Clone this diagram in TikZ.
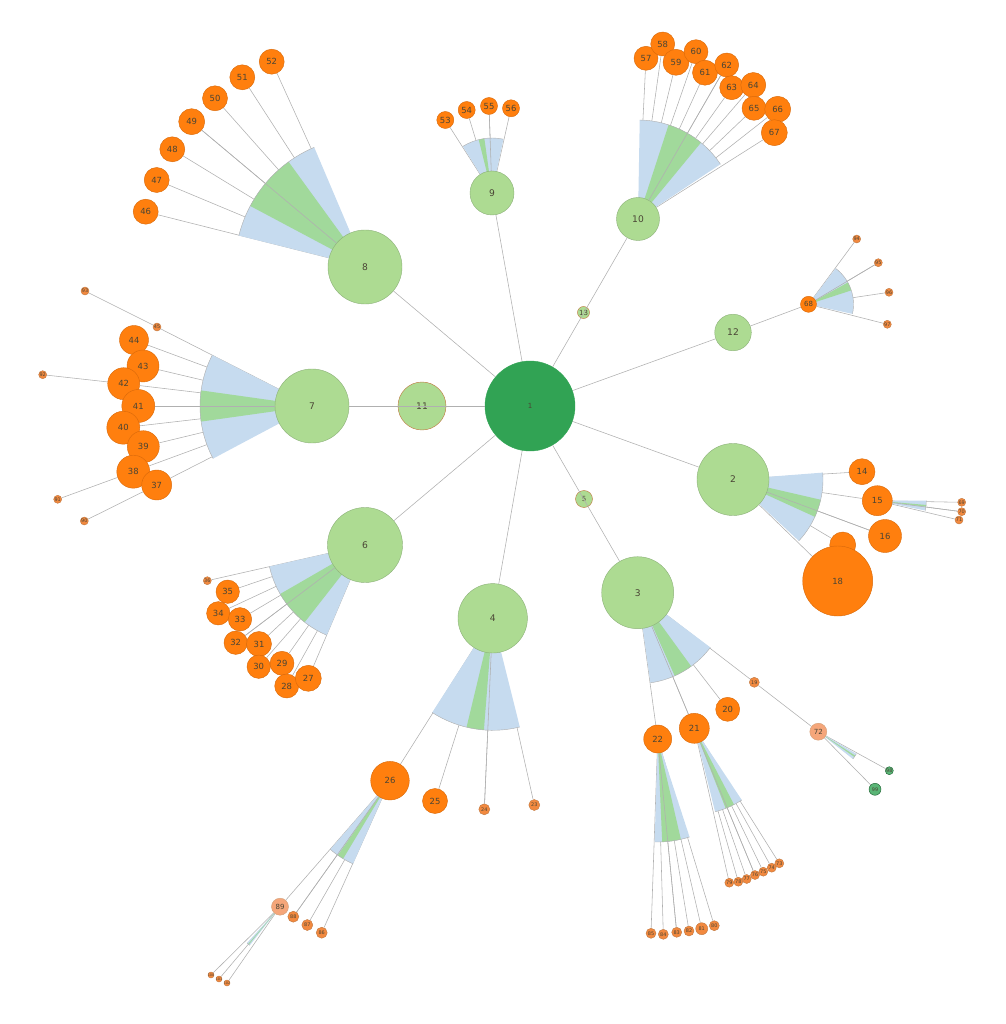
\documentclass[tikz,border=0pt]{standalone}
\usepackage{fontspec}
\setmainfont{DejaVu Sans}

\definecolor{rootgreen}{HTML}{31A354}
\definecolor{nodegreen}{HTML}{ADDB92}
\definecolor{rimgreen}{HTML}{8DB27A}
\definecolor{leaforange}{HTML}{FF7F0E}
\definecolor{rimorange}{HTML}{D9690A}
\definecolor{paleorange}{HTML}{F5A67A}
\definecolor{midorange}{HTML}{F2893F}
\definecolor{rimbrown}{HTML}{C07840}
\definecolor{fanblue}{HTML}{C6DBEF}
\definecolor{fangreen}{HTML}{A1D99B}
\definecolor{edgegray}{HTML}{B0B0B0}
\definecolor{labelgray}{HTML}{4A4535}

\pgfdeclarelayer{edges}
\pgfdeclarelayer{fans}
\pgfsetlayers{edges,fans,main}

\tikzset{
  vert/.style={circle, inner sep=0pt, line width=0.3pt, text=labelgray},
  rad/.style={minimum size={#1*0.5mm}},
  rootv/.style={vert, fill=rootgreen, draw=rootgreen, font=\fontsize{5}{5}\selectfont},
  inner/.style={vert, fill=nodegreen, draw=rimgreen, font=\fontsize{6.5}{7}\selectfont},
  ringed/.style={vert, fill=nodegreen, draw=rimbrown, font=\fontsize{6.5}{7}\selectfont},
  leaf/.style={vert, fill=leaforange, draw=rimorange, font=\fontsize{6}{6}\selectfont},
  pale/.style={vert, fill=paleorange, draw=rimbrown!70},
  mini/.style={vert, fill=midorange, draw=rimbrown},
  dark/.style={vert, fill=rootgreen!80, draw=rootgreen!60!black},
  minitext/.style={inner sep=0pt, text=labelgray, font=\fontsize{3.5}{3.5}\selectfont},
  tinytext/.style={inner sep=0pt, text=labelgray, font=\fontsize{2.4}{2.4}\selectfont},
  smalltext/.style={inner sep=0pt, text=labelgray, font=\fontsize{5}{5}\selectfont},
  edge/.style={draw=edgegray, line width=0.4pt},
  rim/.style={draw=edgegray, line width=0.3pt},
}

% fan behind a parent: node, from, to, radius (mm), green from, green to
\newcommand\fanwedge[6]{%
  \fill[fanblue] (#1.center) -- ++(#2:#4mm) arc[start angle=#2, end angle=#3, radius=#4mm] -- cycle;
  \fill[fangreen] (#1.center) -- ++(#5:#4mm) arc[start angle=#5, end angle=#6, radius=#4mm] -- cycle;
  \draw[rim] (#1.center) ++(#2:#4mm) arc[start angle=#2, end angle=#3, radius=#4mm];
}

\begin{document}
\begin{tikzpicture}[x=0.25mm, y=-0.25mm]
  \useasboundingbox (0,0) rectangle (1005,1024);

  % first ring
  \node[rootv, rad=45] (n1) at (530,406) {1};
  \node[ringed, rad=24] (n11) at (422,406) {11};
  \node[inner, rad=37] (n7) at (312,406) {7};
  \node[inner, rad=37] (n8) at (365,267) {8};
  \node[inner, rad=22] (n9) at (492,193) {9};
  \node[inner, rad=21.5] (n10) at (638,219) {10};
  \node[ringed, rad=6, label={[smalltext]center:13}] (n13) at (583.5,312.5) {};
  \node[inner, rad=18.3] (n12) at (733,332.5) {12};
  \node[leaf, rad=8, label={[smalltext]center:68}] (n68) at (808.5,304.3) {};
  \node[inner, rad=36] (n2) at (733,479.5) {2};
  \node[ringed, rad=8.5, label={[smalltext]center:5}] (n5) at (584,499) {};
  \node[inner, rad=36] (n3) at (637.7,592.7) {3};
  \node[inner, rad=34.7] (n4) at (492.7,618.3) {4};
  \node[inner, rad=37.5] (n6) at (365,545) {6};

  % under 8
  \node[leaf, rad=12.5] (n46) at (145.7,211.7) {46};
  \node[leaf, rad=12.5] (n47) at (156.7,180) {47};
  \node[leaf, rad=12.5] (n48) at (172.3,149.3) {48};
  \node[leaf, rad=13] (n49) at (191.7,121.7) {49};
  \node[leaf, rad=12.5] (n50) at (215,98.3) {50};
  \node[leaf, rad=12.5] (n51) at (242.3,77.3) {51};
  \node[leaf, rad=12.5] (n52) at (271.7,61.7) {52};

  % under 9
  \node[leaf, rad=8.5] (n53) at (445.3,120) {53};
  \node[leaf, rad=8.5] (n54) at (466.7,110) {54};
  \node[leaf, rad=8.5] (n55) at (489,106) {55};
  \node[leaf, rad=8.5] (n56) at (511,108.3) {56};

  % under 10
  \node[leaf, rad=12] (n57) at (646,58.3) {57};
  \node[leaf, rad=12] (n58) at (662.7,44) {58};
  \node[leaf, rad=13] (n59) at (676,62.3) {59};
  \node[leaf, rad=12] (n60) at (696,51.7) {60};
  \node[leaf, rad=12.5] (n61) at (705,72.7) {61};
  \node[leaf, rad=12] (n62) at (726.7,65) {62};
  \node[leaf, rad=12] (n63) at (731.7,87.7) {63};
  \node[leaf, rad=12.5] (n64) at (753.3,85) {64};
  \node[leaf, rad=12] (n65) at (754,108.3) {65};
  \node[leaf, rad=13] (n66) at (777.7,109.3) {66};
  \node[leaf, rad=13] (n67) at (774.3,132.7) {67};

  % under 68
  \node[mini, rad=4, label={[minitext]center:94}] (n94) at (856.7,239) {};
  \node[mini, rad=4, label={[minitext]center:95}] (n95) at (878.3,262.7) {};
  \node[mini, rad=4, label={[minitext]center:96}] (n96) at (889,292.3) {};
  \node[mini, rad=4, label={[minitext]center:97}] (n97) at (887.3,324.3) {};

  % under 7
  \node[leaf, rad=14.5] (n44) at (134,340) {44};
  \node[leaf, rad=16] (n43) at (143,366) {43};
  \node[leaf, rad=16] (n42) at (123.7,383.7) {42};
  \node[leaf, rad=16.5] (n41) at (138.3,406) {41};
  \node[leaf, rad=16.5] (n40) at (123.3,427.7) {40};
  \node[leaf, rad=16] (n39) at (143.3,446.7) {39};
  \node[leaf, rad=16.5] (n38) at (133.3,471.7) {38};
  \node[leaf, rad=15] (n37) at (156.7,485) {37};
  \node[mini, rad=4, label={[minitext]center:45}] (n45) at (157,327) {};
  \node[mini, rad=4, label={[minitext]center:93}] (n93) at (85,291) {};
  \node[mini, rad=4, label={[minitext]center:92}] (n92) at (42.7,374.7) {};
  \node[mini, rad=4, label={[minitext]center:91}] (n91) at (57.7,499.3) {};
  \node[mini, rad=4, label={[minitext]center:90}] (n90) at (84.3,521) {};

  % under 2
  \node[leaf, rad=13] (n14) at (862,471.7) {14};
  \node[leaf, rad=15] (n15) at (877.3,500.7) {15};
  \node[leaf, rad=16.5] (n16) at (885,536) {16};
  \node[leaf, rad=13] (n17) at (842.7,545) {};
  \node[leaf, rad=35] (n18) at (837.7,581) {18};
  \node[mini, rad=4, label={[minitext]center:69}] (n69) at (961.7,502.3) {};
  \node[mini, rad=4, label={[minitext]center:70}] (n70) at (961.7,511.7) {};
  \node[mini, rad=4, label={[minitext]center:71}] (n71) at (959,520) {};

  % under 6
  \node[mini, rad=4, label={[minitext]center:36}] (n36) at (207.3,580.7) {};
  \node[leaf, rad=11.7] (n35) at (227.7,591.7) {35};
  \node[leaf, rad=11.7] (n34) at (218.3,613.3) {34};
  \node[leaf, rad=11.7] (n33) at (240,619.3) {33};
  \node[leaf, rad=11.7] (n32) at (235.7,642.7) {32};
  \node[leaf, rad=12.5] (n31) at (259,644) {31};
  \node[leaf, rad=11.7] (n30) at (258.7,666.7) {30};
  \node[leaf, rad=12] (n29) at (282,663.3) {29};
  \node[leaf, rad=12] (n28) at (286.7,686) {28};
  \node[leaf, rad=13] (n27) at (308.3,678.3) {27};

  % under 3
  \node[leaf, rad=14] (n22) at (657.7,739) {22};
  \node[leaf, rad=15] (n21) at (694.3,728.3) {21};
  \node[leaf, rad=12] (n20) at (727.7,709.3) {20};
  \node[mini, rad=5, label={[minitext]center:19}] (n19) at (754.3,682.3) {};
  \node[pale, rad=8.5, label={[smalltext]center:72}] (n72) at (818.3,731.7) {};
  \node[dark, rad=4, label={[minitext]center:98}] (n98) at (889.3,770.7) {};
  \node[dark, rad=6, label={[minitext]center:99}] (n99) at (875,789.3) {};

  % under 22 and 21
  \node[mini, rad=5, label={[minitext]center:85}] (n85) at (651,933.3) {};
  \node[mini, rad=5, label={[minitext]center:84}] (n84) at (663.3,934.3) {};
  \node[mini, rad=5, label={[minitext]center:83}] (n83) at (676.7,932.3) {};
  \node[mini, rad=5, label={[minitext]center:82}] (n82) at (689,931) {};
  \node[mini, rad=6, label={[minitext]center:81}] (n81) at (701.7,928.7) {};
  \node[mini, rad=5, label={[minitext]center:80}] (n80) at (714.3,925.7) {};
  \node[mini, rad=4.5, label={[minitext]center:79}] (n79) at (729.3,882.7) {};
  \node[mini, rad=4.5, label={[minitext]center:78}] (n78) at (738.3,881.7) {};
  \node[mini, rad=4.5, label={[minitext]center:77}] (n77) at (746.7,879) {};
  \node[mini, rad=4.5, label={[minitext]center:76}] (n76) at (755,875) {};
  \node[mini, rad=4.5, label={[minitext]center:75}] (n75) at (763.3,871.7) {};
  \node[mini, rad=4.5, label={[minitext]center:74}] (n74) at (771.7,867.7) {};
  \node[mini, rad=4.5, label={[minitext]center:73}] (n73) at (779.3,863.3) {};

  % under 4
  \node[leaf, rad=19.3] (n26) at (390,780.7) {26};
  \node[leaf, rad=12.5] (n25) at (435,801) {25};
  \node[mini, rad=5.5, label={[minitext]center:24}] (n24) at (484.3,809.3) {};
  \node[mini, rad=5.5, label={[minitext]center:23}] (n23) at (534.3,805) {};
  \node[pale, rad=8.5, label={[smalltext]center:89}] (n89) at (280,906.7) {};
  \node[mini, rad=5.5, label={[minitext]center:88}] (n88) at (293.3,916.7) {};
  \node[mini, rad=5.5, label={[minitext]center:87}] (n87) at (307.3,925) {};
  \node[mini, rad=5.5, label={[minitext]center:86}] (n86) at (321.7,932.7) {};
  \node[mini, rad=3, label={[tinytext]center:100}] (n100) at (211,975) {};
  \node[mini, rad=3, label={[tinytext]center:101}] (n101) at (219,979) {};
  \node[mini, rad=3, label={[tinytext]center:102}] (n102) at (227,983) {};

  \begin{pgfonlayer}{edges}
    \draw[edge] (n1) -- (n8);
    \draw[edge] (n1) -- (n9);
    \draw[edge] (n1) -- (n12);
    \draw[edge] (n12) -- (n68);
    \draw[edge] (n1) -- (n2);
    \draw[edge] (n1) -- (n4);
    \draw[edge] (n1) -- (n6);
    \foreach \k in {46,...,52} \draw[edge] (n8) -- (n\k);
    \foreach \k in {53,...,56} \draw[edge] (n9) -- (n\k);
    \foreach \k in {57,...,67} \draw[edge] (n10) -- (n\k);
    \foreach \k in {94,...,97} \draw[edge] (n68) -- (n\k);
    \foreach \k in {37,...,45} \draw[edge] (n7) -- (n\k);
    \draw[edge] (n45) -- (n93);
    \draw[edge] (n42) -- (n92);
    \draw[edge] (n38) -- (n91);
    \draw[edge] (n37) -- (n90);
    \foreach \k in {14,...,18} \draw[edge] (n2) -- (n\k);
    \foreach \k in {69,70,71} \draw[edge] (n15) -- (n\k);
    \foreach \k in {27,...,36} \draw[edge] (n6) -- (n\k);
    \foreach \k in {19,...,22} \draw[edge] (n3) -- (n\k);
    \draw[edge] (n19) -- (n72);
    \draw[edge] (n72) -- (n98);
    \draw[edge] (n72) -- (n99);
    \foreach \k in {80,...,85} \draw[edge] (n22) -- (n\k);
    \foreach \k in {73,...,79} \draw[edge] (n21) -- (n\k);
    \foreach \k in {23,...,26} \draw[edge] (n4) -- (n\k);
    \foreach \k in {86,...,89} \draw[edge] (n26) -- (n\k);
    \foreach \k in {100,101,102} \draw[edge] (n89) -- (n\k);
  \end{pgfonlayer}

  \begin{pgfonlayer}{fans}
    \fanwedge{n8}{113}{166}{32.5}{126}{152}
    \fanwedge{n9}{78}{122}{13.75}{98}{104}
    \fanwedge{n10}{33.6}{89}{24.75}{50.5}{72}
    \fanwedge{n68}{-12.3}{52.9}{11.25}{18}{29}
    \fanwedge{n7}{153}{208}{28}{172}{188}
    \fanwedge{n2}{-43}{4.4}{22.5}{-24.5}{-13}
    \fanwedge{n15}{-11.6}{0}{12.25}{-7}{-5}
    \fanwedge{n6}{192.7}{247}{24.5}{210}{232}
    \fanwedge{n3}{-82}{-37}{22.75}{-66}{-54}
    \fanwedge{n72}{-38.3}{-30.1}{11}{-35}{-33}
    \fanwedge{n22}{-91.7}{-72}{25.75}{-87.5}{-77}
    \fanwedge{n21}{-76}{-56.5}{21.5}{-68.6}{-62.5}
    \fanwedge{n4}{-122.7}{-76}{28}{-103.5}{-94.5}
    \fanwedge{n26}{229}{246}{22.75}{235}{239}
    \fanwedge{n89}{227.7}{232}{12.25}{229.5}{230.5}
  \end{pgfonlayer}

  % lines that show over the fans and the small nodes
  \draw[edge] (n1) -- (n7);
  \draw[edge] (n1) -- (n10);
  \draw[edge] (n1) -- (n3);
  \draw[edge] (n8) -- (n49);
  \draw[edge] (n9) -- (n55);
  \draw[edge] (n10) -- (n62);
  \draw[edge] (n68) -- (n95);
  \draw[edge] (n7) -- (n41);
  \draw[edge] (n2) -- (n16);
  \draw[edge] (n15) -- (n70);
  \draw[edge] (n6) -- (n32);
  \draw[edge] (n3) -- (n21);
  \draw[edge] (n22) -- (n83);
  \draw[edge] (n21) -- (n76);
  \draw[edge] (n4) -- (n24);
  \draw[edge] (n26) -- (n88);
\end{tikzpicture}
\end{document}
